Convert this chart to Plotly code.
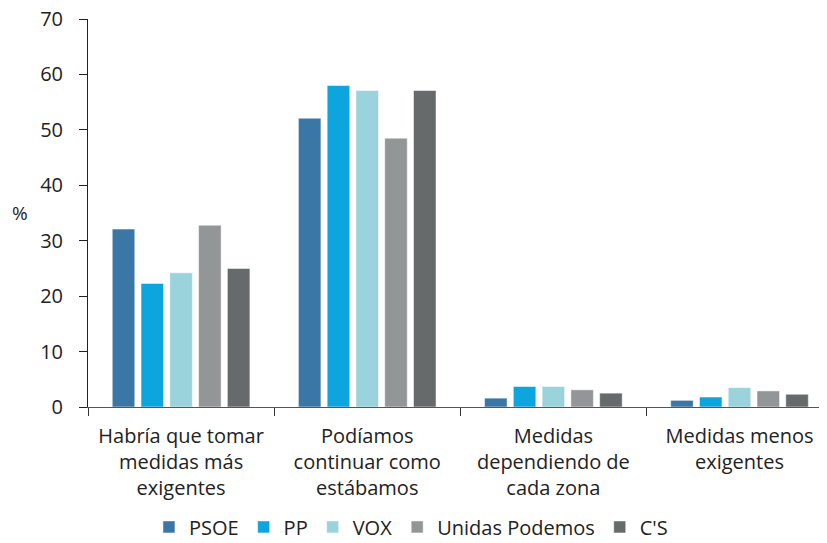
import plotly.graph_objects as go

categories = ["Habría que tomar<br>medidas más<br>exigentes",
              "Podíamos<br>continuar como<br>estábamos",
              "Medidas<br>dependiendo de<br>cada zona",
              "Medidas menos<br>exigentes"]
series_names = ["PSOE", "PP", "VOX", "Unidas Podemos", "C'S"]
psoe = [32.1, 52.1, 1.6, 1.2]
pp = [22.3, 58.0, 3.7, 1.8]
vox = [24.2, 57.1, 3.7, 3.5]
unidas_podemos = [32.8, 48.5, 3.1, 2.9]
cs = [25.0, 57.1, 2.5, 2.3]
colors = ["#3A76A6", "#0CA5DE", "#9AD3DB", "#939697", "#676A6B"]
y_ticks = [0, 10, 20, 30, 40, 50, 60, 70]

FONT = "Open Sans, sans-serif"
fig = go.Figure()
for name, vals, col in zip(series_names, [psoe, pp, vox, unidas_podemos, cs], colors):
    fig.add_trace(go.Bar(x=categories, y=vals, name=name,
                         marker=dict(color=col, line=dict(color="rgba(255,255,255,0.5)", width=1))))

# page body has an 8px margin, so the figure is sized 819x535
fig.update_layout(
    width=819, height=535,
    barmode="group", bargap=0.227, bargroupgap=0.217,
    plot_bgcolor="white", paper_bgcolor="white",
    margin=dict(l=80, r=0, t=11, b=136),
    font=dict(family=FONT, size=20, color="#222222"),
    showlegend=True,
    legend=dict(orientation="h", x=0.437, xanchor="center",
                yref="container", y=0.03, yanchor="middle",
                font=dict(size=20), itemwidth=30, traceorder="normal"),
    xaxis=dict(showline=True, linecolor="#555555", linewidth=1, automargin=False,
               range=[-0.5, 3.47],
               ticks="outside", tickson="boundaries", ticklen=8, tickcolor="#333333",
               tickfont=dict(size=20), showgrid=False, ticklabelstandoff=11,
               ticklabeloverflow="allow"),
    yaxis=dict(range=[0, 70], tickvals=y_ticks, showline=True, linecolor="#222222", linewidth=1,
               automargin=False,
               ticks="outside", ticklen=8, tickcolor="#222222", showgrid=False, zeroline=False,
               tickfont=dict(size=20), ticklabelstandoff=12, ticklabeloverflow="allow"),
    annotations=[dict(text="%", x=-0.092, y=0.5, xref="paper", yref="paper",
                      xanchor="center", yanchor="middle", showarrow=False,
                      font=dict(size=19))]
)
fig.write_html("out.html")
